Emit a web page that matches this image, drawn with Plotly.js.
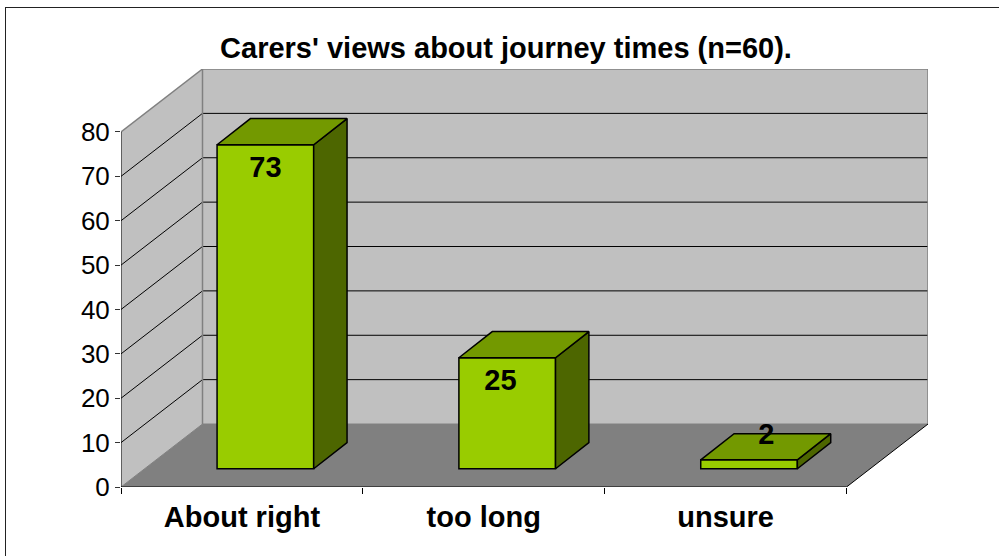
<!DOCTYPE html>
<html><head><meta charset="utf-8">
<script src="https://cdn.plot.ly/plotly-3.0.0.min.js"></script>
<style>
html,body{margin:0;padding:0;background:#fff;overflow:hidden}
#chart{position:absolute;left:0;top:0;width:999px;height:556px}
#frame{position:absolute;left:5px;top:7px;width:999px;height:556px;border-left:1.5px solid #222;border-top:1.5px solid #222;pointer-events:none}
</style></head><body>
<div id="chart"></div><div id="frame"></div>
<script>
// data
const categories = ['About right', 'too long', 'unsure'];
const values = [73, 25, 2];
const labelX = [0.0975, 1.069, 2.168];
const labelY = [71.4, 23.6, 11.3];
const yTicks = [0, 10, 20, 30, 40, 50, 60, 70, 80];
const catBounds = [-0.5, 0.5, 1.5, 2.5];
const titleText = "Carers' views about journey times (n=60).";

// 3D projection parameters in axis units
const wallDx = 0.337, wallDy = 14.19;
const barWidth = 0.3995, barShiftX = 0.097, barBase = 4.12, barDx = 0.138, barDy = 5.9;
const xMin = -0.5, xMax = 2.5, yMax = 80;

const FONT = 'Liberation Sans, Arial, sans-serif';
const GREY = '#808080';
const poly = (pts) => 'M' + pts.map(p => p[0] + ',' + p[1]).join('L') + 'Z';
const dataShape = (extra) => Object.assign({xref: 'x', yref: 'y', layer: 'below'}, extra);
const segment = (x0, y0, x1, y1, color, width) => dataShape({type: 'line', x0, y0, x1, y1, line: {color, width}});

const shapes = [
  // side wall
  dataShape({type: 'path', path: poly([[xMin,0],[xMin+wallDx,wallDy],[xMin+wallDx,yMax+wallDy],[xMin,yMax]]), fillcolor: '#C0C0C0', line: {width: 0}}),
  // back wall
  dataShape({type: 'path', path: poly([[xMin+wallDx,wallDy],[xMax+wallDx,wallDy],[xMax+wallDx,yMax+wallDy],[xMin+wallDx,yMax+wallDy]]), fillcolor: '#C0C0C0', line: {width: 0}}),
  // floor
  dataShape({type: 'path', path: poly([[xMin,0],[xMax,0],[xMax+wallDx,wallDy],[xMin+wallDx,wallDy]]), fillcolor: GREY, line: {width: 0}})
];
yTicks.slice(1, -1).forEach(v => {
  shapes.push(segment(xMin, v, xMin + wallDx, v + wallDy, '#000', 1));
  shapes.push(segment(xMin + wallDx, v + wallDy, xMax + wallDx, v + wallDy, '#000', 1));
});
shapes.push(
  segment(xMin, yMax, xMin + wallDx, yMax + wallDy, GREY, 1.5),
  segment(xMin + wallDx, yMax + wallDy, xMax + wallDx, yMax + wallDy, GREY, 1.5),
  segment(xMin + wallDx, wallDy, xMin + wallDx, yMax + wallDy, GREY, 1.5),
  segment(xMax + wallDx, wallDy, xMax + wallDx, yMax + wallDy, GREY, 1.5),
  segment(xMin + wallDx, wallDy, xMax + wallDx, wallDy, GREY, 1),
  segment(xMin, 0, xMin + wallDx, wallDy, GREY, 1),
  segment(xMax, 0, xMax + wallDx, wallDy, '#000', 1),
  segment(xMin, 0, xMin, yMax, '#000', 1),
  segment(xMin, 0, xMax, 0, '#000', 1)
);

const traces = [];
const faceLine = {color: '#000', width: 1.5};
values.forEach((v, i) => {
  const left = i + barShiftX - barWidth / 2, right = left + barWidth;
  const low = barBase, high = barBase + v;
  // side face
  traces.push({type: 'scatter', mode: 'lines', fill: 'toself', fillcolor: '#4D6600', line: faceLine, cliponaxis: false, hoverinfo: 'skip',
    x: [right, right + barDx, right + barDx, right, right],
    y: [low, low + barDy, high + barDy, high, low]});
  // top face
  traces.push({type: 'scatter', mode: 'lines', fill: 'toself', fillcolor: '#739900', line: faceLine, cliponaxis: false, hoverinfo: 'skip',
    x: [left, right, right + barDx, left + barDx, left],
    y: [high, high, high + barDy, high + barDy, high]});
});
// front faces
traces.unshift({type: 'bar', x: categories.map((c, i) => i + barShiftX), y: values, base: values.map(() => barBase), width: barWidth,
  marker: {color: '#99CC00', line: faceLine}, hoverinfo: 'skip'});
// value labels
traces.push({type: 'scatter', mode: 'text', x: labelX, y: labelY, text: values.map(String), textposition: 'middle center', cliponaxis: false,
  textfont: {family: FONT, size: 29, color: '#000', weight: 'bold'}, hoverinfo: 'skip'});

const layout = {
  width: 999, height: 556, showlegend: false, paper_bgcolor: '#fff', plot_bgcolor: 'rgba(0,0,0,0)',
  margin: {l: 120.5, r: 71.3, t: 68.5, b: 69, pad: 0},
  title: {text: '<b>' + titleText + '</b>', font: {family: FONT, size: 29, color: '#000'}, x: 506 / 999, xref: 'container', xanchor: 'center', y: 1 - 48 / 556, yref: 'container', yanchor: 'middle'},
  xaxis: {range: [xMin, xMax + wallDx], fixedrange: true, showgrid: false, zeroline: false, showline: false,
    tickmode: 'array', tickvals: categories.map((c, i) => i), ticktext: categories.map(c => '<b>' + c + '</b>'), ticks: '', tickangle: 0, ticklabelstandoff: 10,
    tickfont: {family: FONT, size: 29, color: '#000'},
    minor: {tickmode: 'array', tickvals: catBounds, ticks: 'outside', ticklen: 6, tickwidth: 1, tickcolor: '#000', showgrid: false}},
  yaxis: {range: [0, yMax + wallDy], fixedrange: true, showgrid: false, zeroline: false, showline: false,
    tickmode: 'array', tickvals: yTicks, ticktext: yTicks.map(String), ticks: 'outside', ticklen: 5, tickwidth: 1, tickcolor: '#333',
    tickfont: {family: FONT, size: 26, color: '#000'}},
  shapes
};
Plotly.newPlot('chart', traces, layout, {displayModeBar: false, staticPlot: true});
</script>
</body></html>
